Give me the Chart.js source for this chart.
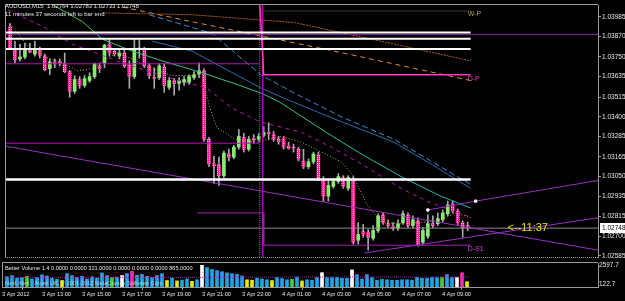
<!DOCTYPE html>
<html>
<head>
<meta charset="utf-8">
<script src="https://cdn.jsdelivr.net/npm/chart.js@4.4.1/dist/chart.umd.min.js"></script>
<style>
  html, body { margin: 0; padding: 0; background: #000; }
  #wrap { position: relative; width: 625px; height: 301px; background: #000; overflow: hidden; }
  #main { position: absolute; left: 0; top: 0; }
  #vol  { position: absolute; left: 0; top: 262px; }
</style>
</head>
<body>
<div id="wrap">
  <canvas id="main" width="625" height="262"></canvas>
  <canvas id="vol" width="625" height="39"></canvas>
</div>
<script>
/* ---- DATA : AUDUSD M15, one entry per bar (bar 0 = 3 Apr 11:15) ---- */
const opens = [
  1.03928,1.03801,1.03738,1.03750,1.03796,1.03767,1.03796,1.03755,1.03681,1.03721,
  1.03721,1.03710,1.03664,1.03549,1.03618,1.03583,1.03612,1.03635,1.03698,1.03715,
  1.03824,1.03784,1.03755,1.03773,1.03704,1.03635,1.03796,1.03796,1.03698,1.03629,
  1.03629,1.03692,1.03572,1.03612,1.03595,1.03601,1.03601,1.03629,1.03652,1.03669,
  1.03268,1.03124,1.03119,1.03055,1.03182,1.03164,1.03222,1.03279,1.03210,1.03273,
  1.03268,1.03291,1.03308,1.03296,1.03268,1.03273,1.03228,1.03222,1.03210,1.03141,
  1.03107,1.03136,1.03176,1.03027,1.02935,1.02992,1.03021,1.03044,1.02981,1.03038,
  1.02677,1.02728,1.02723,1.02688,1.02734,1.02826,1.02774,1.02757,1.02746,1.02780,
  1.02826,1.02763,1.02791,1.02665,1.02700,1.02774,1.02774,1.02797,1.02832,1.02889,
  1.02849,1.02780,1.02764
];
const highs = [
  1.03945,1.03842,1.03824,1.03830,1.03830,1.03842,1.03807,1.03767,1.03738,1.03738,
  1.03738,1.03773,1.03669,1.03641,1.03635,1.03641,1.03658,1.03715,1.03715,1.03824,
  1.03859,1.03801,1.03796,1.03796,1.03727,1.03853,1.03859,1.03807,1.03710,1.03687,
  1.03710,1.03710,1.03629,1.03623,1.03629,1.03635,1.03646,1.03664,1.03715,1.03681,
  1.03279,1.03170,1.03164,1.03199,1.03210,1.03233,1.03325,1.03302,1.03285,1.03296,
  1.03302,1.03342,1.03365,1.03314,1.03285,1.03285,1.03251,1.03239,1.03222,1.03210,
  1.03153,1.03193,1.03193,1.03050,1.03027,1.03038,1.03067,1.03055,1.03055,1.03050,
  1.02780,1.02769,1.02740,1.02763,1.02832,1.02837,1.02797,1.02780,1.02797,1.02849,
  1.02837,1.02820,1.02809,1.02751,1.02826,1.02820,1.02837,1.02855,1.02906,1.02906,
  1.02860,1.02791,1.02783
];
const lows = [
  1.03796,1.03715,1.03727,1.03738,1.03773,1.03755,1.03744,1.03669,1.03646,1.03687,
  1.03698,1.03658,1.03514,1.03537,1.03566,1.03572,1.03601,1.03623,1.03658,1.03687,
  1.03755,1.03755,1.03738,1.03687,1.03566,1.03623,1.03744,1.03687,1.03623,1.03566,
  1.03618,1.03543,1.03560,1.03526,1.03555,1.03583,1.03589,1.03618,1.03629,1.03256,
  1.03107,1.03010,1.02998,1.03044,1.03141,1.03153,1.03210,1.03193,1.03199,1.03245,
  1.03256,1.03279,1.03268,1.03256,1.03239,1.03210,1.03210,1.03193,1.03141,1.03096,
  1.03096,1.03124,1.03027,1.02906,1.02906,1.02981,1.03010,1.02981,1.02969,1.02654,
  1.02654,1.02694,1.02619,1.02677,1.02723,1.02769,1.02751,1.02734,1.02734,1.02769,
  1.02751,1.02751,1.02642,1.02654,1.02688,1.02751,1.02763,1.02786,1.02820,1.02837,
  1.02769,1.02694,1.02733
];
const closes = [
  1.03801,1.03733,1.03750,1.03796,1.03778,1.03796,1.03761,1.03675,1.03721,1.03710,
  1.03715,1.03664,1.03549,1.03618,1.03583,1.03623,1.03635,1.03710,1.03681,1.03819,
  1.03773,1.03767,1.03773,1.03698,1.03635,1.03796,1.03801,1.03698,1.03641,1.03623,
  1.03698,1.03583,1.03612,1.03595,1.03612,1.03618,1.03635,1.03646,1.03669,1.03268,
  1.03124,1.03113,1.03055,1.03187,1.03164,1.03222,1.03285,1.03210,1.03268,1.03262,
  1.03285,1.03308,1.03302,1.03268,1.03256,1.03222,1.03216,1.03216,1.03153,1.03107,
  1.03136,1.03182,1.03038,1.02935,1.02998,1.03021,1.03050,1.02992,1.03044,1.02665,
  1.02711,1.02711,1.02694,1.02734,1.02820,1.02780,1.02763,1.02746,1.02774,1.02832,
  1.02763,1.02797,1.02654,1.02734,1.02774,1.02763,1.02803,1.02837,1.02883,1.02849,
  1.02780,1.02751,1.02748
];

/* Better Volume histogram, one value per bar, plus its colour code */
const volumes = [
  1100,1250,900,1000,1150,800,1000,1350,1200,900,
  750,600,1500,1250,1000,1150,800,1100,900,1600,
  1250,1000,1050,1250,1500,1800,1300,1400,1150,1000,
  1250,1500,600,900,550,650,800,500,700,2597.7,
  2300,2050,1900,1750,1600,1500,1400,1200,700,650,
  900,800,700,600,1000,850,700,750,1050,550,
  700,625,1000,1625,1000,1000,1000,900,900,2000,
  1375,800,1375,1000,625,750,700,625,625,700,
  700,625,1000,900,900,1000,1000,1000,1375,1000,
  1000,1625,450
];
const volCodes = ('bbbbgbbbbb' + 'bybbbbbbbb' + 'bgbwbmbbbb' + 'bbybybbybw' + 'bbbbbbbbyy' +
                  'bbbybbbgby' + 'bbbwbbbbbw' + 'bbbbbbbbbb' + 'bbbbbbbgbb' + 'wmy').split('');
const volAverage = [[-1, 1000], [39, 1000], [60, 1060], [92.6, 1060]];

/* moving averages: [bar index, price] */
const maTeal   = [[7.6,1.04071],[14.6,1.03956],[18.6,1.03853],[24.6,1.03784],[30.6,1.03727],[38.6,1.03658],
                  [46.2,1.03583],[50.6,1.03537],[54.2,1.03486],[63.6,1.03308],[70.6,1.03182],[78.6,1.03050],
                  [86.6,1.02935],[92.6,1.02866]];
const maBlueA  = [[28.6,1.03842],[36.6,1.03784],[50.6,1.03566],[56,1.03497],[66.6,1.03371],[77.2,1.03251],
                  [84.6,1.03124],[92.6,1.02981]];
const maBlueB  = [[28,1.03997],[40.6,1.03888],[50.6,1.03641],[58,1.03526],[66.6,1.03400],[77.2,1.03268],
                  [84.6,1.03141],[92.6,1.03004]];
const maBrown  = [[18.6,1.04008],[36.6,1.03997],[57.2,1.03951],[74.6,1.03842],[92.6,1.03727]];
const maOrange = [[22.6,1.04042],[36.6,1.03956],[65.2,1.03784],[92.6,1.03612]];
const maTan    = [[0,1.03945],[3.6,1.03813],[6.6,1.03755],[10.6,1.03715],[13.6,1.03669],[16.6,1.03681],
                  [18.6,1.03727],[21.6,1.03773],[24.6,1.03738],[28.6,1.03681],[32.6,1.03641],[36.6,1.03641],
                  [38.6,1.03652],[40,1.03469],[41.6,1.03337],[45.2,1.03268],[49.6,1.03251],[54.6,1.03285],
                  [58.6,1.03251],[62.6,1.03193],[66.6,1.03136],[69,1.03055],[71.6,1.02895],[74.6,1.02780],
                  [78.6,1.02774],[82.6,1.02780],[86.6,1.02797],[89.6,1.02837],[92.6,1.02809]];
const maMagenta = [[-0.4,1.04025],[6.6,1.03928],[12.6,1.03824],[22.6,1.03715],[30.6,1.03641],[39.6,1.03566],
                   [44.6,1.03451],[50.2,1.03371],[58.6,1.03308],[64.6,1.03222],[70.6,1.03124],[78.6,1.02981],
                   [84.6,1.02895],[92,1.02820]];

/* trend lines and levels */
const trendA = [[-1,1.03228],[118.2,1.02619]];
const trendB = [[71.2,1.02602],[118.2,1.02809]];
const trendC = [[84,1.02854],[93.6,1.02906],[118.2,1.03027]];
const whiteLevels = [1.03893, 1.03856, 1.03796, 1.03033];
const oldLevels   = [1.03710, 1.03245];
const fullLevel   = 1.03882;
const bidPrice    = 1.02748;
const weekPivot   = 1.04019;
const dayPivot    = [[50.2,1.04071],[51,1.03646],[92.6,1.03646]];
const dayS1       = [[37.6,1.02837],[51,1.02837],[51,1.02648],[92.6,1.02648]];
const daySeparator = 50.8;

const tagTexts  = ['W-P', 'D-P', 'D-S1'];
const tagPrices = [1.04002, 1.03623, 1.02625];

/* axes */
const priceTicks = [1.03985,1.03870,1.03750,1.03635,1.03515,1.03400,1.03285,1.03165,1.03050,1.02935,1.02815,1.02700,1.02585];
const timeTicks  = [-1,7,15,23,31,39,47,55,63,71,79,87];
const timeLabels = ['3 Apr 2012','3 Apr 13:00','3 Apr 15:00','3 Apr 17:00','3 Apr 19:00','3 Apr 21:00',
                    '3 Apr 23:00','4 Apr 01:00','4 Apr 03:00','4 Apr 05:00','4 Apr 07:00','4 Apr 09:00'];
const volTicks   = [122.7, 2597.7];

const X_MIN = -1, X_MAX = 118.2;
const FONT = 'Liberation Sans, Arial, sans-serif';

/* ---- helpers ---- */
const pts = a => a.map(([x, y]) => ({ x, y }));

function bearPattern() {
  const c = document.createElement('canvas');
  c.width = 2; c.height = 2;
  const g = c.getContext('2d');
  g.fillStyle = '#ff2a9e'; g.fillRect(0, 0, 2, 2);
  g.fillStyle = '#ffb8dc'; g.fillRect(1, 1, 1, 1);
  return g.createPattern(c, 'repeat');
}
const BEAR = bearPattern();
const BULL = '#86ec6e';
const DOJI = '#c8c8c8';
const VOLCOL = { b: '#1ea6e6', w: '#ffffff', g: '#3ad33a', y: '#e8e800', m: '#ff2aa8' };

function line(data, color, opt = {}) {
  return Object.assign({
    type: 'line', data: pts(data), borderColor: color, borderWidth: 1,
    pointRadius: 0, fill: false, tension: 0, order: 5
  }, opt);
}
const span = (price, from, to) => [[from, price], [to, price]];

/* ---- MAIN PRICE CHART ---- */
const frameMain = {
  id: 'frameMain',
  afterDatasetsDraw(chart) {
    const { ctx, chartArea: a, scales: { x, y } } = chart;
    ctx.save();
    ctx.strokeStyle = '#9a9a9a'; ctx.lineWidth = 1;
    ctx.beginPath();
    ctx.moveTo(a.left + 0.5, a.bottom); ctx.lineTo(a.left + 0.5, a.top - 0.5); ctx.lineTo(a.right, a.top - 0.5);
    ctx.stroke();
    ctx.setLineDash([1, 1]);
    ctx.beginPath(); ctx.moveTo(a.left, a.bottom + 0.5); ctx.lineTo(a.right, a.bottom + 0.5); ctx.stroke();
    ctx.setLineDash([]);

    // header
    ctx.fillStyle = '#e6e6e6';
    ctx.font = '6px ' + FONT;
    ctx.textBaseline = 'middle'; ctx.textAlign = 'left';
    ctx.fillText('AUDUSD,M15  1.02764 1.02783 1.02733 1.02748', 5, 6);
    ctx.fillText('11 minutes 37 seconds left to bar end', 5, 14);

    // level tags
    const tagColors = ['#a4a050', '#ff3cc8', '#e040e0'];
    ctx.font = '7px ' + FONT;
    tagTexts.forEach((t, i) => {
      ctx.fillStyle = tagColors[i];
      ctx.fillText(t, x.getPixelForValue(92), y.getPixelForValue(tagPrices[i]));
    });

    // countdown
    ctx.fillStyle = '#e6e600';
    ctx.font = '11px ' + FONT;
    ctx.fillText('<--11:37', x.getPixelForValue(100), y.getPixelForValue(bidPrice));

    // bid box on axis
    const by = Math.round(y.getPixelForValue(bidPrice));
    ctx.fillStyle = '#ffffff';
    ctx.fillRect(a.right + 2, by - 5, 25, 10);
    ctx.fillStyle = '#000000';
    ctx.font = '6.5px ' + FONT;
    ctx.fillText('1.02748', a.right + 4, by + 0.5);
    ctx.restore();
  }
};

const ds = [];
// levels and lines (drawn on top of candles => low order)
whiteLevels.forEach((p, i) => ds.push(line(span(p, -1, 92.6), '#ffffff', { borderWidth: i === 3 ? 2.5 : 2, order: 1 })));
ds.push(line(span(fullLevel, -1, X_MAX), '#8a22b0', { order: 1 }));
oldLevels.forEach(p => ds.push(line(span(p, -1, 50.2), '#b012b8', { order: 2 })));
ds.push(line(span(bidPrice, -1, X_MAX), '#8c8c8c', { order: 3 }));
ds.push(line(span(weekPivot, 51, 92.6), '#7d7a3a', { borderDash: [1, 1], order: 2 }));
ds.push(line([[daySeparator, 1.04071], [daySeparator, 1.02579]], '#9a18b0', { order: 2 }));
ds.push(line([[50.2, 1.04071], [50.2, 1.02579]], '#d03cc8', { borderDash: [1, 1], order: 2 }));
ds.push(line(dayPivot, '#ff3cc8', { borderWidth: 1.5, order: 1 }));
ds.push(line(dayS1, '#a816b8', { order: 1 }));
ds.push(line(trendA, '#9a2ec8', { order: 2 }));
ds.push(line(trendB, '#9a2ec8', { order: 2 }));
ds.push(line(trendC, '#9a2ec8', { order: 2, pointRadius: [1.6, 1.6, 0], pointStyle: 'rect',
  pointBackgroundColor: '#ffffff', pointBorderColor: '#ffffff' }));
// moving averages
ds.push(line(maTeal, ctx => {
  const c = ctx.chart, a = c.chartArea;
  if (!a) return '#2cbfa0';
  const g = c.ctx.createLinearGradient(a.left, 0, a.left + 470, 0);
  g.addColorStop(0, '#3fd040'); g.addColorStop(0.45, '#30c48a'); g.addColorStop(1, '#22b3b8');
  return g;
}, { order: 6 }));
ds.push(line(maBlueA, '#2a6cb0', { order: 6 }));
ds.push(line(maBlueB, '#3a88cc', { borderDash: [6, 3], order: 6 }));
ds.push(line(maBrown, '#b0602a', { borderDash: [2, 1], order: 6 }));
ds.push(line(maOrange, '#e08a30', { borderDash: [5, 4], order: 6 }));
ds.push(line(maMagenta, '#b418b4', { borderDash: [4, 4], order: 6 }));
ds.push(line(maTan, '#caa060', { borderDash: [1, 2], order: 4 }));
// candles
ds.push({
  type: 'bar', order: 9, grouped: false, barThickness: 1,
  data: opens.map((o, i) => ({ x: i, y: [lows[i], highs[i]] })),
  backgroundColor: '#a8a8a8'
});
ds.push({
  type: 'bar', order: 8, grouped: false, barThickness: 3, minBarLength: 1,
  data: opens.map((o, i) => ({ x: i, y: [o, closes[i]] })),
  backgroundColor: c => {
    const i = c.dataIndex;
    if (i === undefined) return BULL;
    return closes[i] > opens[i] ? BULL : closes[i] < opens[i] ? BEAR : DOJI;
  }
});

new Chart(document.getElementById('main'), {
  type: 'bar',
  data: { datasets: ds },
  plugins: [frameMain],
  options: {
    responsive: false, animation: false, events: [], devicePixelRatio: 1,
    layout: { padding: { left: 2, top: 3, right: 0, bottom: 2 } },
    plugins: { legend: { display: false }, tooltip: { enabled: false } },
    scales: {
      x: { type: 'linear', min: X_MIN, max: X_MAX, display: false, offset: false },
      y: {
        type: 'linear', position: 'right', min: 1.02579, max: 1.04054,
        afterBuildTicks: s => { s.ticks = priceTicks.map(v => ({ value: v })); },
        afterFit: s => { s.width = 27; s.paddingTop = 0; s.paddingBottom = 0; },
        ticks: { color: '#e8e8e8', font: { size: 6.5, family: FONT }, padding: 1,
                 callback: v => v.toFixed(5) },
        grid: { drawOnChartArea: false, drawTicks: true, tickLength: 3, color: '#9a9a9a' },
        border: { display: true, color: '#9a9a9a', dash: [1, 1] }
      }
    }
  }
});

/* ---- VOLUME PANEL + TIME AXIS ---- */
const frameVol = {
  id: 'frameVol',
  afterDatasetsDraw(chart) {
    const { ctx, chartArea: a } = chart;
    ctx.save();
    ctx.strokeStyle = '#9a9a9a'; ctx.lineWidth = 1;
    ctx.beginPath();
    ctx.moveTo(a.left + 0.5, a.bottom); ctx.lineTo(a.left + 0.5, a.top - 0.5); ctx.lineTo(a.right, a.top - 0.5);
    ctx.stroke();
    ctx.fillStyle = '#e6e6e6';
    ctx.font = '5.6px ' + FONT;
    ctx.textBaseline = 'middle'; ctx.textAlign = 'left';
    ctx.fillText('Better Volume 1.4 0.0000 0.0000 321.0000 0.0000 0.0000 0.0000 865.0000', 5, 6);
    ctx.fillStyle = 'rgba(230,230,230,0.75)';
    ctx.fillText('Next Alert : Alpari UK, \u00a9 2001-2012 MetaQuotes Software Corp.', 5, 21);
    ctx.restore();
  }
};

new Chart(document.getElementById('vol'), {
  type: 'bar',
  data: {
    datasets: [
      line(volAverage, '#a020b0', { borderDash: [1, 1], order: 1 }),
      {
        type: 'bar', order: 2, barThickness: 3, grouped: false, base: -250,
        data: volumes.map((v, i) => ({ x: i, y: v })),
        backgroundColor: c => VOLCOL[volCodes[c.dataIndex]] || VOLCOL.b
      }
    ]
  },
  plugins: [frameVol],
  options: {
    responsive: false, animation: false, events: [], devicePixelRatio: 1,
    layout: { padding: { left: 2, top: 1, right: 0, bottom: 1 } },
    plugins: { legend: { display: false }, tooltip: { enabled: false } },
    scales: {
      x: {
        type: 'linear', min: X_MIN, max: X_MAX, offset: false,
        afterBuildTicks: s => { s.ticks = timeTicks.map(v => ({ value: v })); },
        afterFit: s => { s.height = 13; s.paddingLeft = 0; s.paddingRight = 0; },
        ticks: {
          color: '#e8e8e8', font: { size: 5.6, family: FONT }, padding: 1,
          align: 'start', maxRotation: 0, autoSkip: false,
          callback: v => timeLabels[timeTicks.indexOf(v)] ?? ''
        },
        grid: { drawOnChartArea: false, drawTicks: true, tickLength: 3, color: '#9a9a9a' },
        border: { display: true, color: '#9a9a9a', dash: [1, 1] }
      },
      y: {
        type: 'linear', position: 'right', min: -250, max: 2900,
        afterBuildTicks: s => { s.ticks = volTicks.map(v => ({ value: v })); },
        afterFit: s => { s.width = 27; s.paddingTop = 0; s.paddingBottom = 0; },
        ticks: { color: '#e8e8e8', font: { size: 6.5, family: FONT }, padding: 1,
                 callback: v => v.toFixed(1) },
        grid: { drawOnChartArea: false, drawTicks: false },
        border: { display: true, color: '#9a9a9a', dash: [1, 1] }
      }
    }
  }
});
</script>
</body>
</html>
